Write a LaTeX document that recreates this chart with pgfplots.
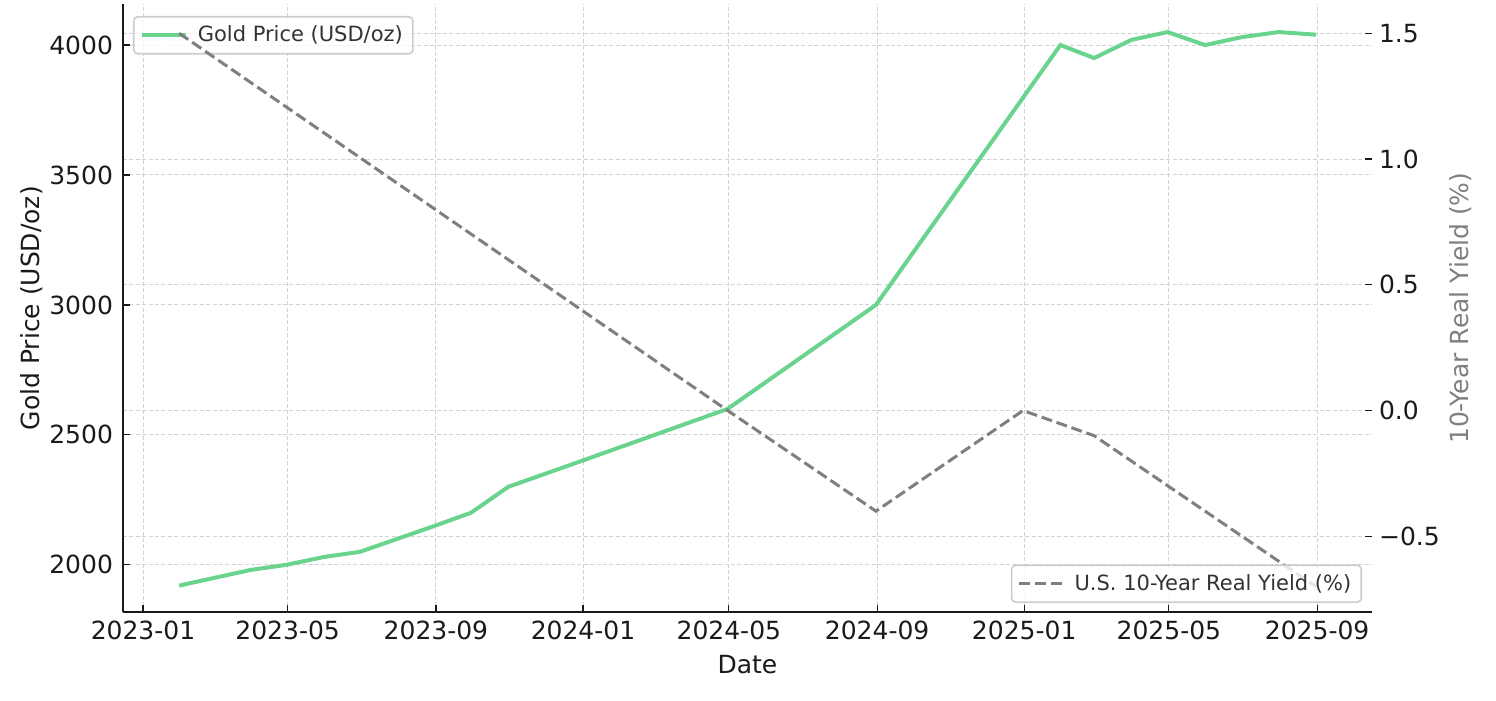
\documentclass[border=0pt]{standalone}
\usepackage{fontspec}
\setmainfont{DejaVu Sans}
\usepackage{pgfplots}
\pgfplotsset{compat=1.18}
\definecolor{gold}{HTML}{6AD48F}
\definecolor{yld}{HTML}{7F7F7F}
\definecolor{gridc}{HTML}{D2D2D2}
\definecolor{txt}{HTML}{1A1A1A}
\pgfplotsset{
 base/.style={scale only axis, width=624.5pt, height=304.25pt, at={(0,0)}, anchor=south west,
   xmin=-16.6, xmax=1019.5,
   tick align=inside, major tick length=3.5pt,
   tick style={txt, line width=0.6pt},
   ticklabel style={font=\fontsize{12.5}{14}\selectfont, text=txt},
   /pgf/number format/assume math mode=true,
   /pgf/number format/set thousands separator={},
   grid style={gridc, line width=0.5pt, dash pattern=on 2pt off 1.2pt},
   legend style={font=\fontsize{10.5}{12.5}\selectfont, text=black!80, draw=black!20, line width=0.8pt,
     rounded corners=2pt, fill=white, fill opacity=0.8, text opacity=1, draw opacity=1,
     inner xsep=3pt, inner ysep=2.5pt},
   legend cell align=left,
   legend image code/.code={\draw[##1] (0pt,0pt) -- (22pt,0pt); \path (25pt,0pt);},
 }
}
\begin{document}
\begin{tikzpicture}
\path[use as bounding box] (-61.5pt,-44.25pt) rectangle (686.5pt,306.25pt);
% right axis: ticks, grid, label
\begin{axis}[base, ymin=-0.803, ymax=1.6165,
  axis x line=none, axis y line*=right, y axis line style={draw=none},
  ytick={-0.5,0,0.5,1,1.5}, yticklabels={−0.5,0.0,0.5,1.0,1.5},
  ymajorgrids, xmajorgrids=false,
  every axis y label/.style={at={(axis description cs:1.0713,0.5)}, rotate=90, anchor=center, font=\fontsize{12.5}{14}\selectfont, text=yld},
  ylabel={10-Year Real Yield (\%)}]
\addplot[draw=none] coordinates {(0,0)};
\end{axis}
% left axis: gold
\begin{axis}[base, ymin=1816.5, ymax=4158,
  axis x line*=bottom, axis y line*=left, axis line style={txt, line width=1pt},
  xtick={0,120,243,365,486,609,731,851,974},
  xticklabels={2023-01,2023-05,2023-09,2024-01,2024-05,2024-09,2025-01,2025-05,2025-09},
  xticklabel style={yshift=-0.7pt},
  ytick={2000,2500,3000,3500,4000},
  yticklabel style={xshift=-1.5pt},
  xmajorgrids, ymajorgrids,
  every axis y label/.style={at={(axis description cs:-0.0729,0.5)}, rotate=90, anchor=center, font=\fontsize{12.5}{14}\selectfont, text=txt},
  ylabel={Gold Price (USD/oz)},
  every axis x label/.style={at={(axis description cs:0.5,-0.0855)}, anchor=center, font=\fontsize{12.5}{14}\selectfont, text=txt},
  xlabel={Date},
  legend style={at={(0,1)}, anchor=north west, xshift=5pt, yshift=-6pt}]
\addplot[gold, line width=2pt] coordinates {
 (30,1920) (89,1980) (119,2000) (150,2030) (180,2050) (242,2150) (272,2200)
 (303,2300) (364,2400) (485,2600) (608,3000) (761,4000) (789,3950) (820,4020)
 (850,4050) (881,4000) (911,4030) (942,4050) (973,4040)};
\addlegendentry{Gold Price (USD/oz)}
\end{axis}
% right axis: yield line
\begin{axis}[base, ymin=-0.803, ymax=1.6165, hide axis,
  legend style={at={(1,0)}, anchor=south east, xshift=-5pt, yshift=4.75pt}]
\addplot[yld, line width=1.5pt, dash pattern=on 5.5pt off 2.4pt] coordinates {
 (30,1.5) (485,0.0) (608,-0.4) (730,0.0) (789,-0.1) (973,-0.7)};
\addlegendentry{U.S. 10-Year Real Yield (\%)}
\end{axis}
\end{tikzpicture}
\end{document}
